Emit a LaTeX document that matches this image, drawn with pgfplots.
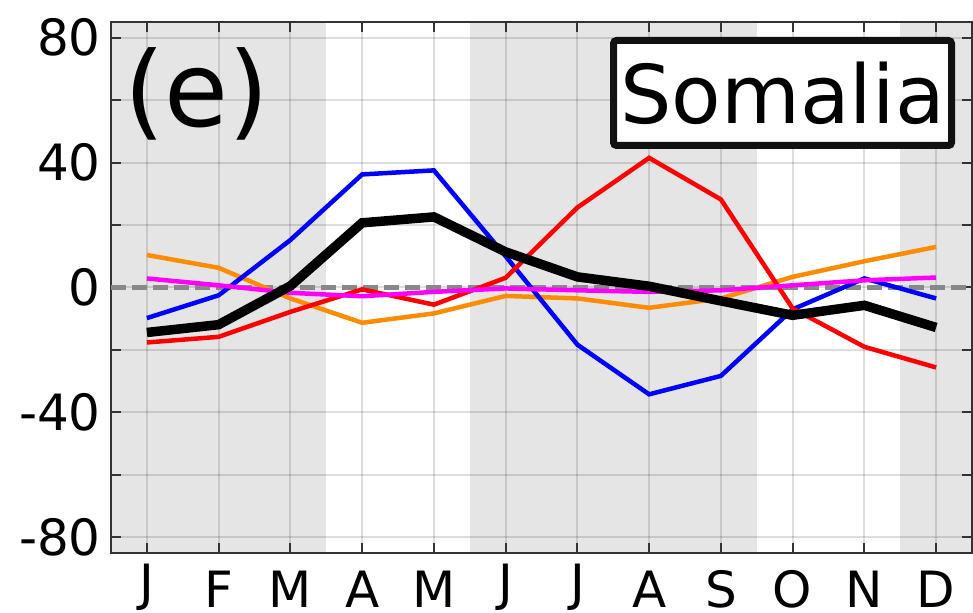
\documentclass[border=0pt]{standalone}
\usepackage{fontspec}
\setmainfont{DejaVu Sans}
\usepackage{pgfplots}
\pgfplotsset{compat=1.18}
\usepackage{pgfplotstable}

\definecolor{bgshade}{HTML}{E5E5E5}
\definecolor{axiscol}{HTML}{333333}
\definecolor{zerocol}{HTML}{888888}
\definecolor{boxcol}{HTML}{111111}
\definecolor{sorange}{HTML}{FF8C00}
\definecolor{smagenta}{HTML}{FF00FF}
\definecolor{sblue}{HTML}{0000FF}
\definecolor{sred}{HTML}{FF0000}

% monthly values, Somalia
\pgfplotstableread{
m  blue   black  red    orange  magenta
1  -9.8  -14.4  -17.6   10.4    2.9
2  -2.5  -11.9  -15.8    6.3    0.7
3  15.2    0.5   -7.8   -3.5   -1.7
4  36.2   20.7   -0.6  -11.3   -2.8
5  37.5   22.6   -5.5   -8.3   -1.4
6  10.0   11.4    3.1   -2.7   -0.3
7 -18.3    3.4   25.6   -3.5   -0.9
8 -34.2    0.4   41.5   -6.5   -1.4
9 -28.3   -4.3   28.2   -3.5   -0.9
10 -7.0   -8.9   -6.7    3.4    0.7
11  2.9   -5.7  -19.0    8.4    2.3
12 -3.5  -12.8  -25.6   13.0    3.2
}\somalia

\newcommand{\upJ}{\raisebox{7bp}{J}}

\begin{document}
\begin{tikzpicture}
\begin{axis}[
  name=ax,
  set layers,
  scale only axis,
  width=861bp, height=531bp,
  xmin=0.5, xmax=12.5,
  ymin=-85, ymax=85,
  xtick={1,...,12},
  xticklabels={\upJ,F,M,A,M,\upJ,\upJ,A,S,O,N,D},
  ytick={-80,-60,...,80},
  yticklabels={-80,,-40,,0,,40,,80},
  grid=major,
  grid style={black, opacity=0.13, line width=2bp},
  axis line style={draw=axiscol, line width=2bp},
  major tick length=10bp,
  every tick/.style={draw=axiscol, line width=2bp},
  tick align=inside,
  tick pos=both,
  xticklabel pos=lower,
  yticklabel pos=left,
  ticklabel style={font=\fontsize{50bp}{60bp}\selectfont, inner sep=0pt},
  xticklabel style={anchor=base, yshift=-54bp},
  yticklabel style={anchor=east, xshift=-10bp},
  every axis plot/.append style={no marks},
]
\begin{pgfonlayer}{axis background}
  \fill[bgshade] (axis cs:0.5,-85) rectangle (axis cs:3.5,85);
  \fill[bgshade] (axis cs:5.5,-85) rectangle (axis cs:9.5,85);
  \fill[bgshade] (axis cs:11.5,-85) rectangle (axis cs:12.5,85);
\end{pgfonlayer}
\addplot[zerocol, line width=4.5bp, dash pattern=on 15bp off 6bp] coordinates {(0.5,0) (12.5,0)};
\addplot[sorange, line width=4.5bp] table[x=m, y=orange] {\somalia};
\addplot[sblue, line width=4.5bp] table[x=m, y=blue] {\somalia};
\addplot[sred, line width=4.5bp] table[x=m, y=red] {\somalia};
\addplot[smagenta, line width=4.5bp] table[x=m, y=magenta] {\somalia};
\addplot[black, line width=9.5bp] table[x=m, y=black] {\somalia};
\end{axis}
\node[anchor=base west, inner sep=0pt, font=\fontsize{104bp}{120bp}\selectfont]
  at ([shift={(13bp,-105bp)}]ax.north west) {(e)};
\node[draw=boxcol, line width=7bp, fill=white, rounded corners=3bp,
  minimum width=338bp, minimum height=105bp, inner sep=0pt,
  font=\fontsize{81bp}{96bp}\selectfont]
  at ([shift={(671.5bp,-71bp)}]ax.north west) {Somalia};
\pgfresetboundingbox
\path ([shift={(-111bp,-60bp)}]ax.south west) rectangle ([shift={(1bp,22bp)}]ax.north east);
\end{tikzpicture}
\end{document}
